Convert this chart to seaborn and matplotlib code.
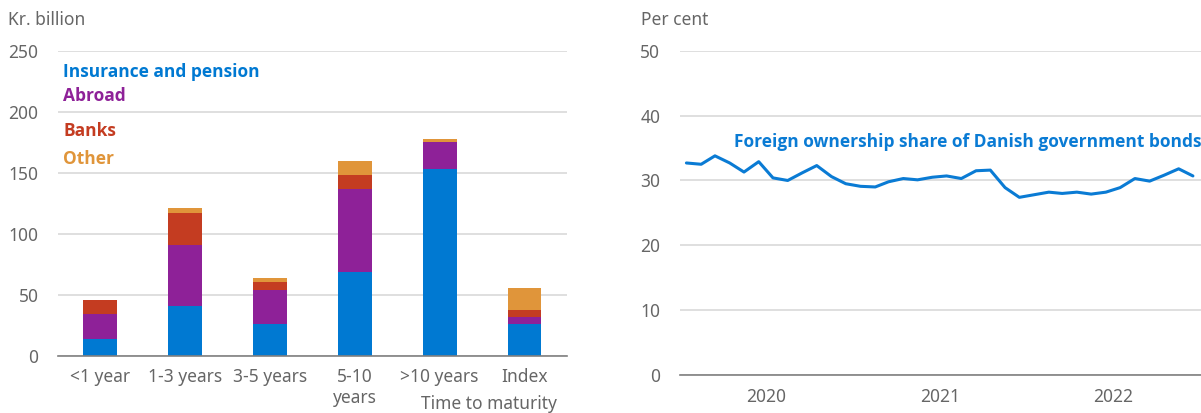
"""Danish government bonds: holders by maturity and foreign ownership share."""

import matplotlib

matplotlib.use("Agg")
import matplotlib.dates as mdates
import matplotlib.pyplot as plt
import matplotlib.transforms as mtransforms
import numpy as np
import pandas as pd
import seaborn as sns

sns.set_theme(style="white")
plt.rcParams["font.family"] = ["Noto Sans", "DejaVu Sans"]
BOLD_FONT = ["Open Sans", "Lato", "DejaVu Sans"]

# Left panel: holdings by time to maturity, kr. billion
maturities = ["<1 year", "1-3 years", "3-5 years", "5-10\nyears", ">10 years", "Index"]
insurance = [13.4, 40.8, 26.0, 68.4, 153.4, 26.0]
abroad = [20.8, 50.0, 27.9, 68.1, 22.1, 5.5]
banks = [11.2, 26.0, 6.8, 11.7, 0.0, 6.0]
other = [0.5, 4.1, 2.8, 11.8, 2.3, 17.8]

# Right panel: foreign ownership share, per cent (monthly, Jan 2020 - Dec 2022)
share_months = pd.date_range("2020-01-01", periods=36, freq="MS") + pd.Timedelta(days=14)
foreign_share = [
    32.7, 32.5, 33.8, 32.7, 31.3, 32.9, 30.4, 30.0, 31.2, 32.3, 30.6, 29.5,
    29.1, 29.0, 29.8, 30.3, 30.1, 30.5, 30.7, 30.3, 31.5, 31.6, 28.9, 27.4,
    27.8, 28.2, 28.0, 28.2, 27.9, 28.2, 28.9, 30.3, 29.9, 30.8, 31.8, 30.7,
]

COLORS = {
    "Insurance and pension": "#0079D2",
    "Abroad": "#8E2198",
    "Banks": "#C43C21",
    "Other": "#E0953A",
}
TEXT = "#666666"
GRID = "#D9D9D9"
AXIS = "#808080"
FS = 12.5


def style_axis(ax):
    for side in ("top", "right", "left"):
        ax.spines[side].set_visible(False)
    ax.spines["bottom"].set_color(AXIS)
    ax.spines["bottom"].set_linewidth(1.2)
    ax.grid(axis="y", color=GRID, lw=1.2)
    ax.set_axisbelow(True)
    ax.tick_params(axis="both", colors=TEXT, labelsize=FS, length=0)
    ax.set_xlabel("")
    ax.set_ylabel("")


fig = plt.figure(figsize=(12.01, 4.13), dpi=100)

# ---- left: stacked bars
ax1 = fig.add_axes([0.0483, 0.139, 0.4237, 0.7375])
holdings = pd.DataFrame(
    {"Insurance and pension": insurance, "Abroad": abroad, "Banks": banks, "Other": other},
    index=maturities,
)
stacked = holdings.cumsum(axis=1)
for col in reversed(holdings.columns):
    sns.barplot(
        x=maturities, y=stacked[col].values, color=COLORS[col],
        width=0.4, saturation=1, ax=ax1, linewidth=0,
    )
style_axis(ax1)
ax1.set_xlim(-0.5, len(maturities) - 0.5)
ax1.set_ylim(0, 250)
ax1.set_yticks(np.arange(0, 251, 50))
ax1.set_xticks(np.arange(-0.5, len(maturities), 1), minor=True)
ax1.tick_params(axis="x", which="minor", direction="in", length=5, color=AXIS, width=1.2)
ax1.tick_params(axis="x", which="major", pad=9)
ax1.tick_params(axis="y", pad=14)
for lbl in ax1.get_xticklabels():
    lbl.set_linespacing(1.2)
    lbl.set_verticalalignment("top")

legend_y = [233, 213, 184, 161]
for (name, color), y in zip(COLORS.items(), legend_y):
    ax1.text(-0.44, y, name, color=color, fontsize=12.5, fontweight="bold",
             family=BOLD_FONT, va="center")

fig.text(8 / 1201, 1 - 20 / 413, "Kr. billion", color=TEXT, fontsize=FS, va="center")
fig.text(557 / 1201, 1 - 404 / 413, "Time to maturity", color=TEXT, fontsize=FS,
         va="center", ha="right")

# ---- right: foreign ownership share
ax2 = fig.add_axes([0.566, 0.092, 0.434, 0.785])
sns.lineplot(x=share_months, y=foreign_share, color="#0A7BD4", lw=2.2, ax=ax2)
style_axis(ax2)
ax2.set_ylim(0, 50)
ax2.set_yticks(np.arange(0, 51, 10))
ax2.set_xlim(pd.Timestamp("2020-01-01"), pd.Timestamp("2023-01-01"))
ax2.xaxis.set_major_locator(mdates.YearLocator())
ax2.xaxis.set_major_formatter(matplotlib.ticker.NullFormatter())
ax2.xaxis.set_minor_locator(mdates.MonthLocator(bymonth=7))
ax2.xaxis.set_minor_formatter(mdates.DateFormatter("%Y"))
ax2.tick_params(axis="x", which="major", direction="in", length=5, color=AXIS, width=1.2)
ax2.tick_params(axis="x", which="minor", length=0, pad=9, colors=TEXT, labelsize=FS)
ax2.tick_params(axis="y", pad=14)

trans = mtransforms.blended_transform_factory(ax2.transAxes, ax2.transData)
ax2.text(1.0, 36, "Foreign ownership share of Danish government bonds", transform=trans,
         ha="right", va="center", color="#0A7BD4", fontsize=12.5, fontweight="bold",
         family=BOLD_FONT)

fig.text(641 / 1201, 1 - 20 / 413, "Per cent", color=TEXT, fontsize=FS, va="center")

fig.savefig("out.png", dpi=100)
